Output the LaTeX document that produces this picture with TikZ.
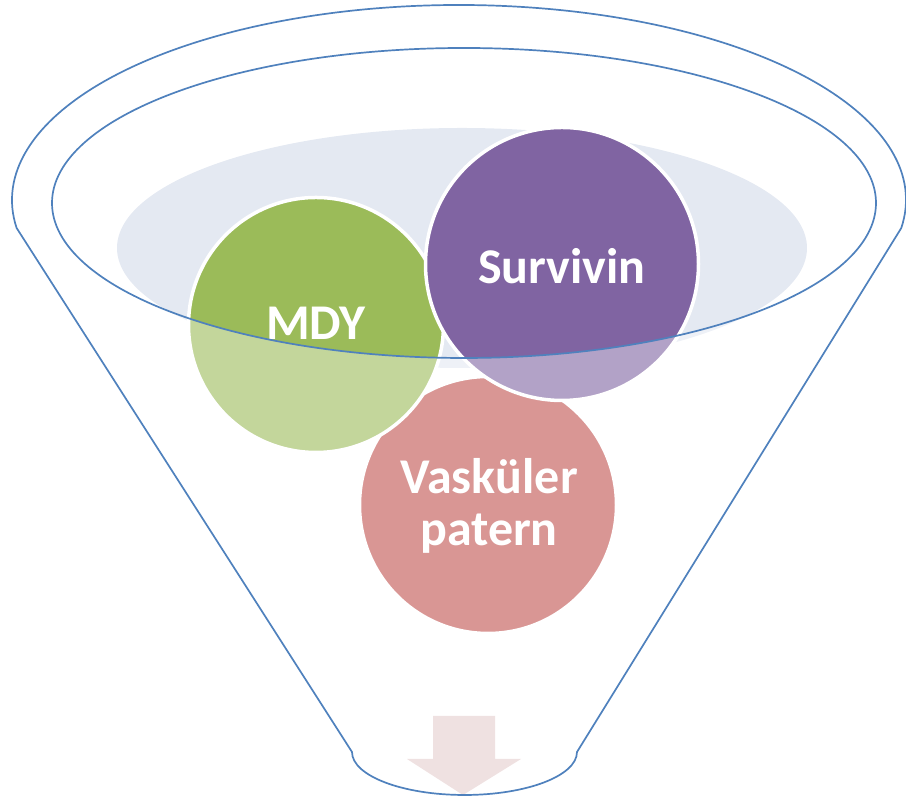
\documentclass[tikz,border=0pt]{standalone}
\usepackage{fontspec}
\setmainfont{Carlito}
\definecolor{funnelline}{HTML}{4F81BD}
\definecolor{paleblue}{HTML}{E4E9F2}
\definecolor{cgreen}{HTML}{9BBB59}
\definecolor{cpurple}{HTML}{8064A2}
\definecolor{cred}{HTML}{C0504D}
\definecolor{parrow}{HTML}{EFE1E1}
\begin{document}
\begin{tikzpicture}[x=1pt,y=1pt,
  ball/.style={circle, draw=white, line width=3.5pt, text=white,
    font=\fontsize{50}{56}\selectfont\bfseries, align=center, inner sep=0pt},
  rim/.style={draw=funnelline, line width=1.7pt}]
\useasboundingbox (0,0) rectangle (906,799);
% back pale ellipse
\fill[paleblue] (462,551) ellipse [x radius=345, y radius=120];
% circles
\node[ball, fill=cred, minimum size=257pt] (vask) at (488,294) {};
\node[ball, fill=cgreen, minimum size=255pt] (mdy) at (316,474) {};
\node[ball, fill=cpurple, minimum size=273pt] (surv) at (562,535) {};
% translucent front of funnel
\begin{scope}
  \clip (901.3,571) arc[start angle=-8.26, end angle=188.26, x radius=447, y radius=195]
     -- (352,47) arc[start angle=180, end angle=360, x radius=112.5, y radius=43] -- cycle;
  \fill[white, opacity=0.4, even odd rule] (0,0) rectangle (906,799)
     (464,596) ellipse [x radius=412, y radius=155];
\end{scope}
% bottom arrow
\fill[parrow] (433,83) -- (495,83) -- (495,40) -- (521,40) -- (463,4) -- (407,40) -- (433,40) -- cycle;
% labels
\node[ball, draw=none, fill=none] (mdyt) at (316,476) {MDY};
\node[ball, draw=none, fill=none] (survt) at (562,533) {Survivin};
\node[ball, draw=none, fill=none] (vaskt) at (489,293) {Vasküler\\[-4pt]patern};
% outlines
\draw[rim] (464,596) ellipse [x radius=412, y radius=155];
\draw[rim] (901.3,571) arc[start angle=-8.26, end angle=188.26, x radius=447, y radius=195]
     -- (352,47) arc[start angle=180, end angle=360, x radius=112.5, y radius=43] -- cycle;
\end{tikzpicture}
\end{document}
